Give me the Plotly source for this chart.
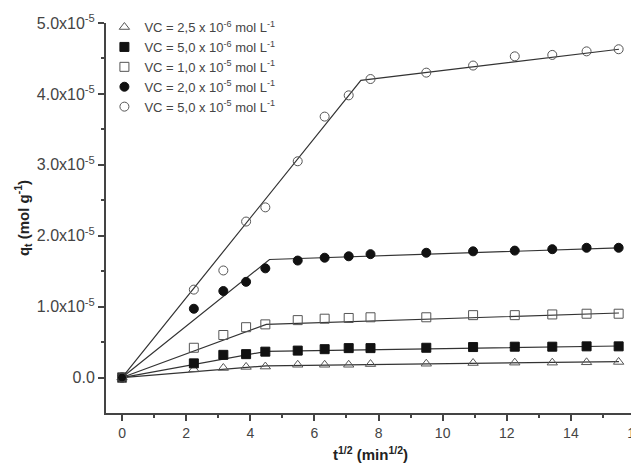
import plotly.graph_objects as go

# sqrt(t) values (min^1/2)
x_vals = [0, 2.24, 3.16, 3.87, 4.47, 5.48, 6.32, 7.07, 7.75, 9.49, 10.95, 12.25, 13.42, 14.49, 15.49]

# q_t values (mol g^-1), in units of 1e-5
q_25e6 = [0, 0.115, 0.135, 0.15, 0.155, 0.18, 0.18, 0.18, 0.19, 0.195, 0.205, 0.21, 0.21, 0.215, 0.22]
q_50e6 = [0, 0.20, 0.32, 0.33, 0.365, 0.38, 0.40, 0.415, 0.415, 0.42, 0.43, 0.435, 0.435, 0.44, 0.44]
q_10e5 = [0, 0.42, 0.60, 0.71, 0.75, 0.81, 0.83, 0.84, 0.85, 0.85, 0.88, 0.88, 0.89, 0.90, 0.90]
q_20e5 = [0, 0.97, 1.22, 1.35, 1.54, 1.65, 1.69, 1.71, 1.74, 1.76, 1.78, 1.79, 1.81, 1.83, 1.83]
q_50e5 = [0, 1.24, 1.51, 2.20, 2.40, 3.05, 3.68, 3.98, 4.21, 4.30, 4.40, 4.53, 4.55, 4.60, 4.63]

# fitted multilinear segments (x, q in 1e-5)
fit_x_25e6 = [0, 4.5, 15.5]; fit_q_25e6 = [0, 0.165, 0.225]
fit_x_50e6 = [0, 4.5, 15.5]; fit_q_50e6 = [0, 0.37, 0.445]
fit_x_10e5 = [0, 4.5, 15.5]; fit_q_10e5 = [0, 0.75, 0.91]
fit_x_20e5 = [0, 4.6, 15.5]; fit_q_20e5 = [0, 1.665, 1.83]
fit_x_50e5 = [0, 7.45, 15.5]; fit_q_50e5 = [0, 4.19, 4.63]

labels = [
    "VC = 2,5 x 10<sup>-6</sup> mol L<sup>-1</sup>",
    "VC = 5,0 x 10<sup>-6</sup> mol L<sup>-1</sup>",
    "VC = 1,0 x 10<sup>-5</sup> mol L<sup>-1</sup>",
    "VC = 2,0 x 10<sup>-5</sup> mol L<sup>-1</sup>",
    "VC = 5,0 x 10<sup>-5</sup> mol L<sup>-1</sup>",
]

y_tickvals = [0, 1e-5, 2e-5, 3e-5, 4e-5, 5e-5]
y_ticktext = ["0.0", "1.0x10<sup>-5</sup>", "2.0x10<sup>-5</sup>", "3.0x10<sup>-5</sup>",
              "4.0x10<sup>-5</sup>", "5.0x10<sup>-5</sup>"]
x_tickvals = [0, 2, 4, 6, 8, 10, 12, 14, 16]

scale = 1e-5
series = [
    (q_25e6, fit_x_25e6, fit_q_25e6, "triangle-up-open", "#555"),
    (q_50e6, fit_x_50e6, fit_q_50e6, "square", "#111"),
    (q_10e5, fit_x_10e5, fit_q_10e5, "square-open", "#555"),
    (q_20e5, fit_x_20e5, fit_q_20e5, "circle", "#111"),
    (q_50e5, fit_x_50e5, fit_q_50e5, "circle-open", "#555"),
]

fig = go.Figure()
for (q, fx, fq, sym, col), lab in zip(series, labels):
    fig.add_trace(go.Scatter(
        x=fx, y=[v * scale for v in fq], mode="lines",
        line=dict(color="#333", width=1.2), showlegend=False, hoverinfo="skip"))
for (q, fx, fq, sym, col), lab in zip(series, labels):
    fig.add_trace(go.Scatter(
        x=x_vals, y=[v * scale for v in q], mode="markers", name=lab,
        marker=dict(symbol=sym, size=9, color=col, line=dict(color=col, width=1))))

font_family = "Arial, Liberation Sans, sans-serif"
fig.update_layout(
    width=639, height=467,
    margin=dict(l=98, r=12, t=15, b=62, autoexpand=False),
    paper_bgcolor="white", plot_bgcolor="white",
    font=dict(family=font_family, color="#444", size=12),
    legend=dict(x=-0.003, y=1.028, xanchor="left", yanchor="top",
                bgcolor="rgba(0,0,0,0)", font=dict(size=13, color="#444"),
                tracegroupgap=0, itemsizing="trace"),
    xaxis=dict(range=[-0.5, 16], tickvals=x_tickvals, ticks="outside", ticklen=6,
               tickwidth=1.5, tickcolor="#444", showline=True, linecolor="#444", linewidth=2,
               showgrid=False, zeroline=False, tickfont=dict(size=14, color="#444"),
               ticklabeloverflow="allow", automargin=False,
               minor=dict(dtick=1, tick0=1, ticks="outside", ticklen=3, tickwidth=1.5, tickcolor="#444"),
               title=dict(text="<b>t<sup>1/2</sup> (min<sup>1/2</sup>)</b>", font=dict(size=15, color="#222"),
                          standoff=10)),
    yaxis=dict(range=[-0.5e-5, 5e-5], tickvals=y_tickvals, ticktext=y_ticktext, ticks="outside",
               ticklen=6, tickwidth=1.5, tickcolor="#444", showline=True, linecolor="#444", linewidth=2,
               showgrid=False, zeroline=False, tickfont=dict(size=16, color="#444"),
               minor=dict(tickvals=[0.5e-5, 1.5e-5, 2.5e-5, 3.5e-5, 4.5e-5], ticks="outside",
                          ticklen=3, tickwidth=1.5, tickcolor="#444"),
               title=dict(text="<b>q<sub>t</sub> (mol g<sup>-1</sup>)</b>", font=dict(size=15, color="#222"),
                          standoff=4)),
)

fig.write_html("out.html")
